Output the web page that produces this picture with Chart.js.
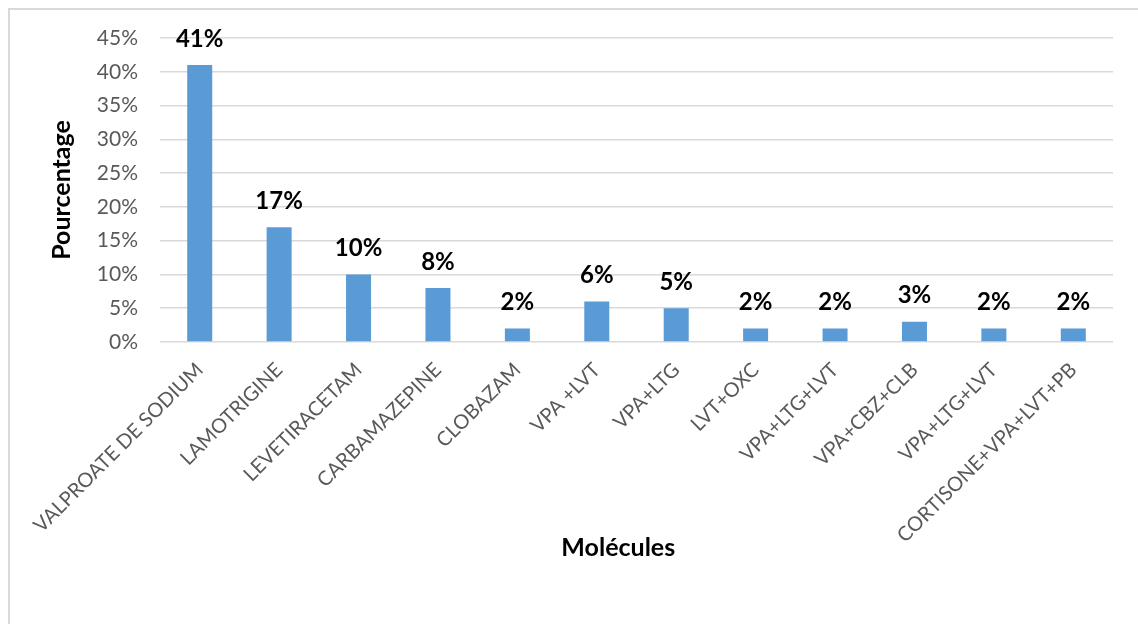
<!DOCTYPE html>
<html><head><meta charset="utf-8">
<script src="https://cdn.jsdelivr.net/npm/chart.js@4"></script>
<style>
html,body{margin:0;padding:0;background:#fff;}
#frame{position:absolute;left:8px;top:8px;width:1150px;height:700px;border:2px solid #d9d9d9;box-sizing:border-box;}
#wrap{position:absolute;left:0;top:0;width:1138px;height:624px;}
</style></head>
<body>
<div id="frame"></div>
<div id="wrap"><canvas id="c" width="1138" height="624"></canvas></div>
<script>
const categories = ["VALPROATE DE SODIUM","LAMOTRIGINE","LEVETIRACETAM","CARBAMAZEPINE","CLOBAZAM","VPA +LVT","VPA+LTG","LVT+OXC","VPA+LTG+LVT","VPA+CBZ+CLB","VPA+LTG+LVT","CORTISONE+VPA+LVT+PB"];
const values = [41,17,10,8,2,6,5,2,2,3,2,2];
const yTicks = [0,5,10,15,20,25,30,35,40,45];

const FONT = "Lato, 'Open Sans', sans-serif";

const valueLabels = {
  id: 'valueLabels',
  afterDatasetsDraw(chart) {
    const ctx = chart.ctx;
    const meta = chart.getDatasetMeta(0);
    ctx.save();
    ctx.font = "bold 24px " + FONT;
    ctx.fillStyle = "#000";
    ctx.textAlign = "center";
    ctx.textBaseline = "middle";
    meta.data.forEach((bar, i) => {
      ctx.fillText(values[i] + "%", bar.x, bar.y - 26);
    });
    ctx.restore();
  }
};

new Chart(document.getElementById('c'), {
  type: 'bar',
  data: {
    labels: categories,
    datasets: [{
      data: values,
      backgroundColor: '#5b9bd5',
      borderWidth: 0,
      barPercentage: 0.315,
      categoryPercentage: 1
    }]
  },
  options: {
    responsive: false,
    animation: false,
    layout: { padding: { top: 38, right: 25, bottom: 24, left: 0 } },
    plugins: { legend: { display: false }, tooltip: { enabled: false } },
    scales: {
      x: {
        grid: { display: false },
        border: { display: false },
        ticks: {
          color: '#595959',
          font: { family: FONT, size: 20 },
          minRotation: 45, maxRotation: 45,
          autoSkip: false,
          padding: 8
        },
        title: {
          display: true, text: 'Molécules      ', color: '#000',
          font: { family: FONT, size: 25, weight: 'bold' },
          padding: { top: 0, bottom: 37 }
        },
        afterFit(s) { s.height = 258; s.paddingLeft = 0; s.paddingRight = 0; }
      },
      y: {
        min: 0, max: 45,
        afterBuildTicks(s) { s.ticks = yTicks.map(v => ({ value: v })); },
        grid: { color: '#d9d9d9', lineWidth: 1.6, drawTicks: false },
        border: { display: false },
        ticks: {
          color: '#595959',
          font: { family: FONT, size: 21 },
          padding: 22,
          callback: v => v + '%'
        },
        title: {
          display: true, text: 'Pourcentage', color: '#000',
          font: { family: FONT, size: 25, weight: 'bold' },
          padding: { top: 47, bottom: 0 }
        },
        afterFit(s) { s.width = 160; s.paddingTop = 0; s.paddingBottom = 0; }
      }
    }
  },
  plugins: [valueLabels]
});
</script>
</body></html>
